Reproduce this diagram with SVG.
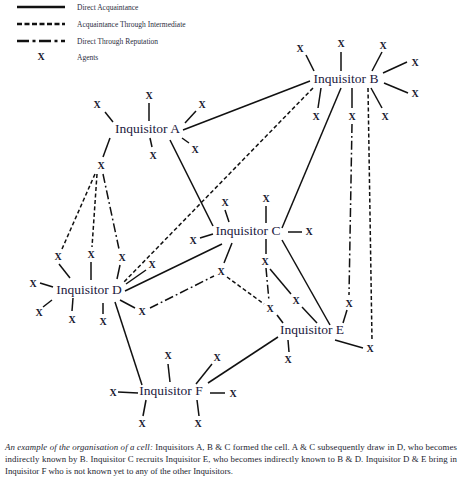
<svg xmlns="http://www.w3.org/2000/svg" width="463" height="480" viewBox="0 0 463 480">
<style>
  .bg{fill:#ffffff}
  .ln{stroke:#111;stroke-width:1.5;fill:none;stroke-linecap:butt}
  .da{stroke-dasharray:4 2.5}
  .dd{stroke-dasharray:9 3 1.8 3}
  .lg{stroke:#111;stroke-width:2.4;fill:none}
  .lbl{font-family:"Liberation Serif","Times New Roman",serif;font-size:13.5px;fill:#1c2040;text-anchor:middle}
  .x{font-family:"Liberation Serif","Times New Roman",serif;font-size:10px;font-weight:bold;fill:#15182e;text-anchor:middle}
  .leg{font-family:"Liberation Serif","Times New Roman",serif;font-size:7.5px;fill:#2a2d40}
  .cap{font-family:"Liberation Serif","Times New Roman",serif;font-size:8.8px;fill:#1c1e30}
</style>
<rect class="bg" x="0" y="0" width="463" height="480"/>

<g id="legend">
  <line class="lg" x1="17" y1="7" x2="65" y2="7"/>
  <line class="lg" x1="17" y1="24" x2="65" y2="24" stroke-dasharray="5 2.5"/>
  <line class="lg" x1="17" y1="41" x2="65" y2="41" stroke-dasharray="12 3.5 3 3.5"/>
  <text class="x" x="41" y="60" font-size="8">X</text>
  <text class="leg" x="77" y="9.5">Direct Acquaintance</text>
  <text class="leg" x="77" y="26.5">Acquaintance Through Intermediate</text>
  <text class="leg" x="77" y="43.5">Direct Through Reputation</text>
  <text class="leg" x="77" y="60">Agents</text>
</g>

<g id="connectors">
  <!-- spokes B -->
  <line class="ln" x1="306" y1="55" x2="314" y2="71"/>
  <line class="ln" x1="341" y1="52" x2="341" y2="71"/>
  <line class="ln" x1="382" y1="52" x2="372" y2="71"/>
  <line class="ln" x1="407" y1="62" x2="383" y2="73"/>
  <line class="ln" x1="408" y1="93" x2="384" y2="83"/>
  <line class="ln" x1="321" y1="88" x2="318" y2="108"/>
  <line class="ln" x1="352" y1="88" x2="352" y2="108"/>
  <line class="ln" x1="371" y1="88" x2="382" y2="108"/>
  <!-- spokes A -->
  <line class="ln" x1="105" y1="112" x2="113" y2="122"/>
  <line class="ln" x1="149" y1="103" x2="149" y2="121"/>
  <line class="ln" x1="196" y1="111" x2="185" y2="123"/>
  <line class="ln" x1="182" y1="138" x2="189" y2="143"/>
  <line class="ln" x1="150" y1="138" x2="152" y2="147"/>
  <line class="ln" x1="110" y1="138" x2="103" y2="157"/>
  <!-- spokes C -->
  <line class="ln" x1="200" y1="238" x2="213" y2="234"/>
  <line class="ln" x1="225" y1="210" x2="229" y2="222"/>
  <line class="ln" x1="266" y1="206" x2="266" y2="223"/>
  <line class="ln" x1="288" y1="232" x2="302" y2="232"/>
  <line class="ln" x1="266" y1="239" x2="266" y2="254"/>
  <line class="ln" x1="224" y1="263" x2="232" y2="243"/>
  <!-- spokes D -->
  <line class="ln" x1="40" y1="283" x2="53" y2="287"/>
  <line class="ln" x1="59" y1="264" x2="70" y2="278"/>
  <line class="ln" x1="91" y1="262" x2="91" y2="280"/>
  <line class="ln" x1="120" y1="265" x2="117" y2="279"/>
  <line class="ln" x1="146" y1="270" x2="126" y2="284"/>
  <line class="ln" x1="120" y1="300" x2="135" y2="308"/>
  <line class="ln" x1="103" y1="303" x2="103" y2="314"/>
  <line class="ln" x1="73" y1="298" x2="72" y2="311"/>
  <line class="ln" x1="52" y1="300" x2="43" y2="307"/>
  <!-- spokes E -->
  <line class="ln" x1="302" y1="307" x2="317" y2="323"/>
  <line class="ln" x1="277" y1="315" x2="283" y2="323"/>
  <line class="ln" x1="347" y1="310" x2="343" y2="323"/>
  <line class="ln" x1="335" y1="340" x2="363" y2="348"/>
  <line class="ln" x1="288" y1="340" x2="289" y2="352"/>
  <!-- spokes F -->
  <line class="ln" x1="118" y1="392" x2="138" y2="393"/>
  <line class="ln" x1="168" y1="364" x2="170" y2="382"/>
  <line class="ln" x1="212" y1="364" x2="196" y2="384"/>
  <line class="ln" x1="210" y1="393" x2="225" y2="393"/>
  <line class="ln" x1="146" y1="400" x2="143" y2="416"/>
  <line class="ln" x1="197" y1="400" x2="199" y2="416"/>
  <!-- direct acquaintance -->
  <line class="ln" x1="183" y1="130" x2="310" y2="81"/>
  <line class="ln" x1="170" y1="140" x2="213" y2="226"/>
  <line class="ln" x1="341" y1="88" x2="282" y2="228"/>
  <line class="ln" x1="125" y1="291" x2="222" y2="244"/>
  <line class="ln" x1="282" y1="240" x2="330" y2="325"/>
  <line class="ln" x1="115" y1="302" x2="142" y2="385"/>
  <line class="ln" x1="278" y1="337" x2="208" y2="383"/>
  <line class="ln" x1="270" y1="269" x2="291" y2="294"/>
  <!-- through intermediate -->
  <line class="ln da" x1="313" y1="88" x2="123" y2="283"/>
  <line class="ln da" x1="95" y1="174" x2="62" y2="249"/>
  <line class="ln da" x1="97" y1="174" x2="92" y2="247"/>
  <line class="ln da" x1="368" y1="88" x2="372" y2="341"/>
  <line class="ln da" x1="227" y1="277" x2="264" y2="304"/>
  <!-- through reputation -->
  <line class="ln dd" x1="103" y1="174" x2="119" y2="249"/>
  <line class="ln dd" x1="150" y1="308" x2="214" y2="276"/>
  <line class="ln dd" x1="352" y1="124" x2="349" y2="295"/>
  <line class="ln dd" x1="266" y1="268" x2="269" y2="301"/>
</g>

<g id="inquisitor-a"><text class="lbl" x="147.5" y="133">Inquisitor A</text></g>
<g id="inquisitor-b"><text class="lbl" x="346" y="83">Inquisitor B</text></g>
<g id="inquisitor-c"><text class="lbl" x="248" y="235">Inquisitor C</text></g>
<g id="inquisitor-d"><text class="lbl" x="89" y="294">Inquisitor D</text></g>
<g id="inquisitor-e"><text class="lbl" x="312" y="334">Inquisitor E</text></g>
<g id="inquisitor-f"><text class="lbl" x="171" y="395">Inquisitor F</text></g>

<g id="agents-b">
  <text class="x" x="300" y="51.5">X</text>
  <text class="x" x="341" y="46.5">X</text>
  <text class="x" x="383" y="48.5">X</text>
  <text class="x" x="415" y="65.5">X</text>
  <text class="x" x="415" y="96.5">X</text>
  <text class="x" x="316" y="119.5">X</text>
  <text class="x" x="352" y="119.5">X</text>
  <text class="x" x="385" y="119.5">X</text>
</g>
<g id="agents-a">
  <text class="x" x="97" y="107.5">X</text>
  <text class="x" x="149" y="98.5">X</text>
  <text class="x" x="202" y="107.5">X</text>
  <text class="x" x="195" y="152.5">X</text>
  <text class="x" x="153" y="158.5">X</text>
  <text class="x" x="101" y="168.5">X</text>
</g>
<g id="agents-c">
  <text class="x" x="193" y="243.5">X</text>
  <text class="x" x="225" y="205.5">X</text>
  <text class="x" x="266" y="201.5">X</text>
  <text class="x" x="309" y="234.5">X</text>
  <text class="x" x="265" y="264.5">X</text>
  <text class="x" x="221" y="274.5">X</text>
</g>
<g id="agents-d">
  <text class="x" x="33" y="286.5">X</text>
  <text class="x" x="58" y="259.5">X</text>
  <text class="x" x="91" y="257.5">X</text>
  <text class="x" x="122" y="260.5">X</text>
  <text class="x" x="152" y="267.5">X</text>
  <text class="x" x="142" y="314.5">X</text>
  <text class="x" x="103" y="324.5">X</text>
  <text class="x" x="72" y="322.5">X</text>
  <text class="x" x="39" y="315.5">X</text>
</g>
<g id="agents-e">
  <text class="x" x="296" y="303.5">X</text>
  <text class="x" x="270" y="311.5">X</text>
  <text class="x" x="349" y="306.5">X</text>
  <text class="x" x="370" y="351.5">X</text>
  <text class="x" x="288" y="362.5">X</text>
</g>
<g id="agents-f">
  <text class="x" x="113" y="395.5">X</text>
  <text class="x" x="168" y="358.5">X</text>
  <text class="x" x="217" y="360.5">X</text>
  <text class="x" x="233" y="396.5">X</text>
  <text class="x" x="142" y="426.5">X</text>
  <text class="x" x="198" y="426.5">X</text>
</g>

<g id="caption">
  <text class="cap" x="5" y="450" textLength="452" lengthAdjust="spacing"><tspan font-style="italic">An example of the organisation of a cell:</tspan> Inquisitors A, B &amp; C formed the cell. A &amp; C subsequently draw in D, who becomes</text>
  <text class="cap" x="5" y="462" textLength="452" lengthAdjust="spacing">indirectly known by B. Inquisitor C recruits Inquisitor E, who becomes indirectly known to B &amp; D. Inquisitor D &amp; E bring in</text>
  <text class="cap" x="5" y="474">Inquisitor F who is not known yet to any of the other Inquisitors.</text>
</g>
</svg>
